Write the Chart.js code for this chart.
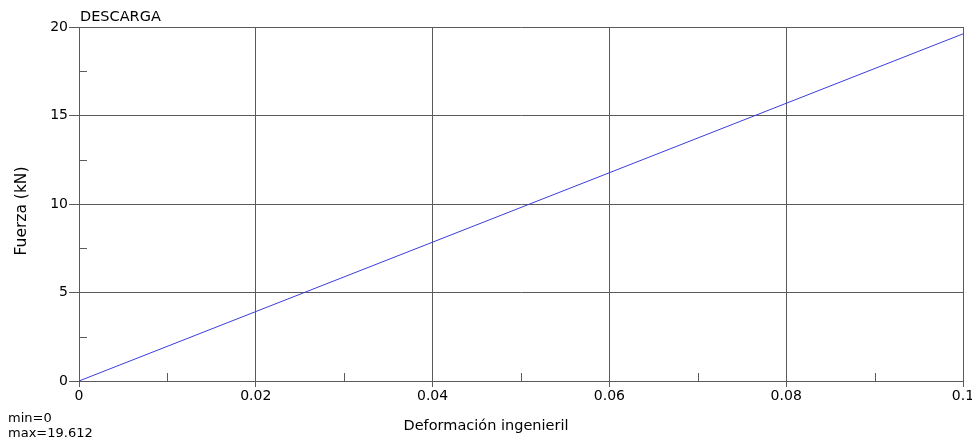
<!DOCTYPE html>
<html>
<head>
<meta charset="utf-8">
<script src="https://cdn.jsdelivr.net/npm/chart.js@4"></script>
<style>
    html, body { margin: 0; padding: 0; background: #fff; }
    #wrap { width: 972px; height: 443px; }
</style>
</head>
<body>
<div id="wrap"><canvas id="chart" width="972" height="443"></canvas></div>
<script>
// ================= DATA =================

const strain = [0, 0.1];
const force = [0, 19.612];

const xTicks = [0, 0.02, 0.04, 0.06, 0.08, 0.1];
const yTicks = [0, 5, 10, 15, 20];
const xMinor = [0.01, 0.03, 0.05, 0.07, 0.09];
const yMinor = [2.5, 7.5, 12.5, 17.5];

const chartTitle = "DESCARGA";
const xTitle = "Deformación ingenieril";
const yTitle = "Fuerza (kN)";
const statLines = ["min=0", "max=19.612"];

const FONT = "'DejaVu Sans', sans-serif";
const GRID = "#5a5a5a";

// ================= PLUGINS =================

const minorTicks = {
    id: "minorTicks",
    afterDraw(chart) {
        const { ctx, chartArea, scales } = chart;
        ctx.save();
        ctx.strokeStyle = GRID;
        ctx.lineWidth = 1;
        ctx.beginPath();
        xMinor.forEach((v) => {
            const px = Math.round(scales.x.getPixelForValue(v)) + 0.5;
            ctx.moveTo(px, chartArea.bottom);
            ctx.lineTo(px, chartArea.bottom - 8);
        });
        yMinor.forEach((v) => {
            const py = Math.round(scales.y.getPixelForValue(v)) + 0.5;
            ctx.moveTo(chartArea.left, py);
            ctx.lineTo(chartArea.left + 8, py);
        });
        ctx.stroke();
        ctx.restore();
    },
};

const extraText = {
    id: "extraText",
    afterDraw(chart) {
        const { ctx } = chart;
        ctx.save();
        ctx.fillStyle = "#000";
        ctx.textBaseline = "alphabetic";
        ctx.textAlign = "left";
        ctx.font = "14.5px " + FONT;
        ctx.fillText(chartTitle, 80, 21);
        ctx.font = "13px " + FONT;
        ctx.fillText(statLines[0], 8, 422);
        ctx.fillText(statLines[1], 8, 437);
        ctx.textAlign = "center";
        ctx.font = "14.5px " + FONT;
        ctx.fillText(xTitle, 486, 430);
        ctx.translate(26, 211);
        ctx.rotate(-Math.PI / 2);
        ctx.font = "15.5px " + FONT;
        ctx.fillText(yTitle, 0, 0);
        ctx.restore();
    },
};

// ================= CHART =================

new Chart(document.getElementById("chart"), {
    type: "line",
    data: {
        datasets: [
            {
                data: strain.map((x, i) => ({ x, y: force[i] })),
                borderColor: "#3c3cdc",
                borderWidth: 1,
                pointRadius: 0,
                tension: 0,
                fill: false,
            },
        ],
    },
    options: {
        responsive: false,
        animation: false,
        layout: { padding: { top: 27, right: 9, left: 0, bottom: 0 } },
        plugins: { legend: { display: false }, tooltip: { enabled: false } },
        scales: {
            x: {
                type: "linear",
                min: 0,
                max: 0.1,
                afterBuildTicks: (s) => { s.ticks = xTicks.map((v) => ({ value: v })); },
                afterFit: (s) => {
                    s.height = 62;
                    s.paddingLeft = 0;
                    s.paddingRight = 0;
                },
                grid: { color: GRID, lineWidth: 1, tickLength: 6, drawTicks: true },
                border: { color: GRID, width: 1 },
                ticks: {
                    color: "#000",
                    font: { family: FONT, size: 14 },
                    padding: 1,
                    maxRotation: 0,
                    callback: (v) => String(v),
                },
            },
            y: {
                type: "linear",
                min: 0,
                max: 20,
                afterBuildTicks: (s) => { s.ticks = yTicks.map((v) => ({ value: v })); },
                afterFit: (s) => { s.width = 79; },
                grid: { color: GRID, lineWidth: 1, tickLength: 10, drawTicks: true },
                border: { color: GRID, width: 1 },
                ticks: {
                    color: "#000",
                    font: { family: FONT, size: 14 },
                    padding: 1,
                    callback: (v) => String(v),
                },
            },
        },
    },
    plugins: [minorTicks, extraText],
});
</script>
</body>
</html>
